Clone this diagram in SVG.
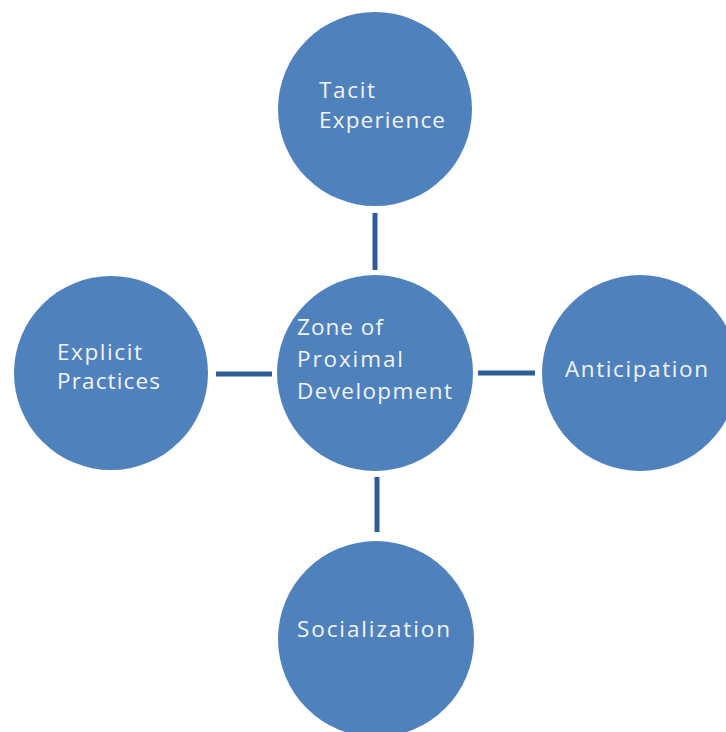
<svg xmlns="http://www.w3.org/2000/svg" width="726" height="732" viewBox="0 0 726 732">
<style>
.node{fill:#4F81BD;}
.lbl{fill:#F2F4F8;font-family:"Open Sans","Noto Sans","Liberation Sans",sans-serif;font-size:22.5px;}
.conn{stroke:#2F5D95;stroke-width:5;fill:none;}
</style>
<rect width="726" height="732" fill="#FFFFFF"/>
<g id="connectors">
<line class="conn" x1="375" y1="213" x2="375" y2="270"/>
<line class="conn" x1="216" y1="374" x2="272" y2="374"/>
<line class="conn" x1="478" y1="373" x2="535" y2="373"/>
<line class="conn" x1="377" y1="477" x2="377" y2="532"/>
</g>
<g id="tacit">
<circle class="node" cx="375" cy="109" r="97"/>
<text class="lbl" x="319" y="98" textLength="56">Tacit</text>
<text class="lbl" x="319" y="128" textLength="126">Experience</text>
</g>
<g id="explicit">
<circle class="node" cx="111" cy="373" r="97"/>
<text class="lbl" x="57" y="360" textLength="85">Explicit</text>
<text class="lbl" x="57" y="389" textLength="103">Practices</text>
</g>
<g id="zpd">
<circle class="node" cx="375" cy="373" r="98"/>
<text class="lbl" x="297" y="335" textLength="86">Zone of</text>
<text class="lbl" x="297" y="367" textLength="106">Proximal</text>
<text class="lbl" x="297" y="399" textLength="155">Development</text>
</g>
<g id="anticipation">
<circle class="node" cx="640" cy="373" r="98"/>
<text class="lbl" x="565" y="377" textLength="143">Anticipation</text>
</g>
<g id="socialization">
<circle class="node" cx="376" cy="639" r="98"/>
<text class="lbl" x="297" y="637" textLength="153">Socialization</text>
</g>
</svg>
